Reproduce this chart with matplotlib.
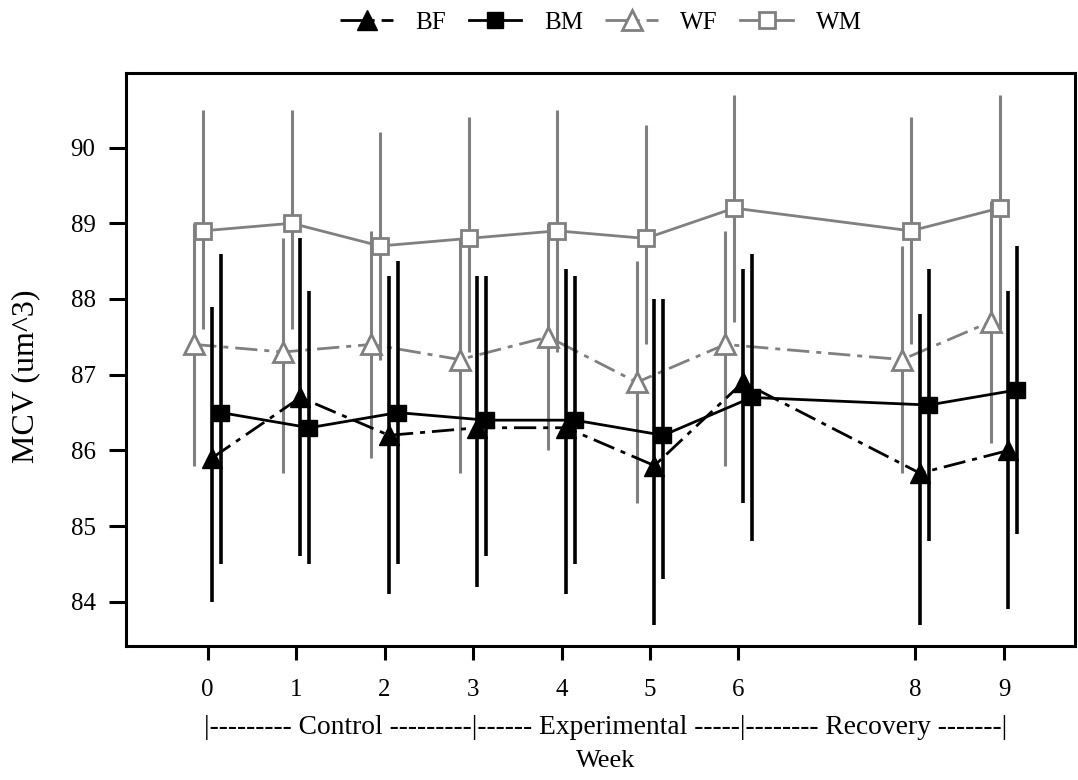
import matplotlib
matplotlib.use("Agg")
import matplotlib.pyplot as plt
import numpy as np

plt.rcParams['font.family'] = ['Liberation Serif', 'DejaVu Serif']

# week numbers on the x axis (no week 7)
weeks = [0, 1, 2, 3, 4, 5, 6, 8, 9]
tick_labels = ["0", "1", "2", "3", "4", "5", "6", "8", "9"]

# mean and lower / upper ends of the bars
bf_mean = [85.9, 86.7, 86.2, 86.3, 86.3, 85.8, 86.9, 85.7, 86.0]
bf_low = [84.0, 84.6, 84.1, 84.2, 84.1, 83.7, 85.3, 83.7, 83.9]
bf_high = [87.9, 88.8, 88.3, 88.3, 88.4, 88.0, 88.4, 87.8, 88.1]

bm_mean = [86.5, 86.3, 86.5, 86.4, 86.4, 86.2, 86.7, 86.6, 86.8]
bm_low = [84.5, 84.5, 84.5, 84.6, 84.5, 84.3, 84.8, 84.8, 84.9]
bm_high = [88.6, 88.1, 88.5, 88.3, 88.3, 88.0, 88.6, 88.4, 88.7]

wf_mean = [87.4, 87.3, 87.4, 87.2, 87.5, 86.9, 87.4, 87.2, 87.7]
wf_low = [85.8, 85.7, 85.9, 85.7, 86.0, 85.3, 85.8, 85.7, 86.1]
wf_high = [89.0, 88.8, 88.9, 88.8, 89.0, 88.5, 88.9, 88.7, 89.3]

wm_mean = [88.9, 89.0, 88.7, 88.8, 88.9, 88.8, 89.2, 88.9, 89.2]
wm_low = [87.6, 87.6, 87.2, 87.3, 87.3, 87.4, 87.7, 87.4, 87.6]
wm_high = [90.5, 90.5, 90.2, 90.4, 90.5, 90.3, 90.7, 90.4, 90.7]

period_text = "|--------- Control ---------|------ Experimental -----|-------- Recovery -------|"

GRAY = "#808080"
FS = 18

fig = plt.figure(figsize=(10.78, 7.8), dpi=100)
ax = fig.add_axes([0.117, 0.172, 0.880, 0.734])

dashdot = (0, (8, 2.5, 1.8, 2.5))

series = [
    # label, mean, low, high, shift, color, style, marker, filled, zorder
    ("BF", bf_mean, bf_low, bf_high, 0.05, "black", dashdot, "^", True, 5),
    ("BM", bm_mean, bm_low, bm_high, 0.15, "black", "-", "s", True, 6),
    ("WF", wf_mean, wf_low, wf_high, -0.15, GRAY, dashdot, "^", False, 3),
    ("WM", wm_mean, wm_low, wm_high, -0.05, GRAY, "-", "s", False, 4),
]

handles = []
for lab, m, lo, hi, sh, col, ls, mk, filled, z in series:
    x = np.array(weeks) + sh
    m = np.array(m)
    yerr = [m - np.array(lo), np.array(hi) - m]
    ax.errorbar(x, m, yerr=yerr, fmt="none", ecolor=col,
                elinewidth=2.6 if col == "black" else 2.2, capsize=0, zorder=z)
    ms = 12 if mk == "s" else 14
    line, = ax.plot(x, m, color=col, linestyle=ls, linewidth=2,
                    marker=mk, markersize=ms,
                    markerfacecolor=col if filled else "white",
                    markeredgecolor=col, markeredgewidth=2 if not filled else 1,
                    label=lab, zorder=z + 0.5)
    handles.append(line)

ax.set_xlim(-0.92, 9.8)
ax.set_ylim(83.42, 90.98)
ax.set_xticks(weeks)
ax.set_xticklabels(tick_labels)
ax.set_yticks([84, 85, 86, 87, 88, 89, 90])

for s in ax.spines.values():
    s.set_linewidth(2.2)
ax.tick_params(axis="x", direction="out", length=10, width=2.2, pad=14, labelsize=FS)
ax.tick_params(axis="y", direction="out", length=12, width=2.2, pad=10, labelsize=FS)

ax.set_ylabel("MCV (um^3)", fontsize=23)
ax.yaxis.set_label_coords(-0.091, 0.471)
ax.text(4.5, -0.143, period_text, transform=ax.get_xaxis_transform(),
        ha="center", va="center", fontsize=19.8)
ax.text(4.5, -0.201, "Week", transform=ax.get_xaxis_transform(),
        ha="center", va="center", fontsize=19)

fig.legend(handles=handles, labels=[h.get_label() for h in handles],
           loc="center", bbox_to_anchor=(0.5575, 0.971), ncol=4, frameon=False,
           fontsize=FS, handlelength=2.1, handletextpad=0.9, columnspacing=0.9,
           numpoints=1)

fig.savefig("out.png", dpi=100)
